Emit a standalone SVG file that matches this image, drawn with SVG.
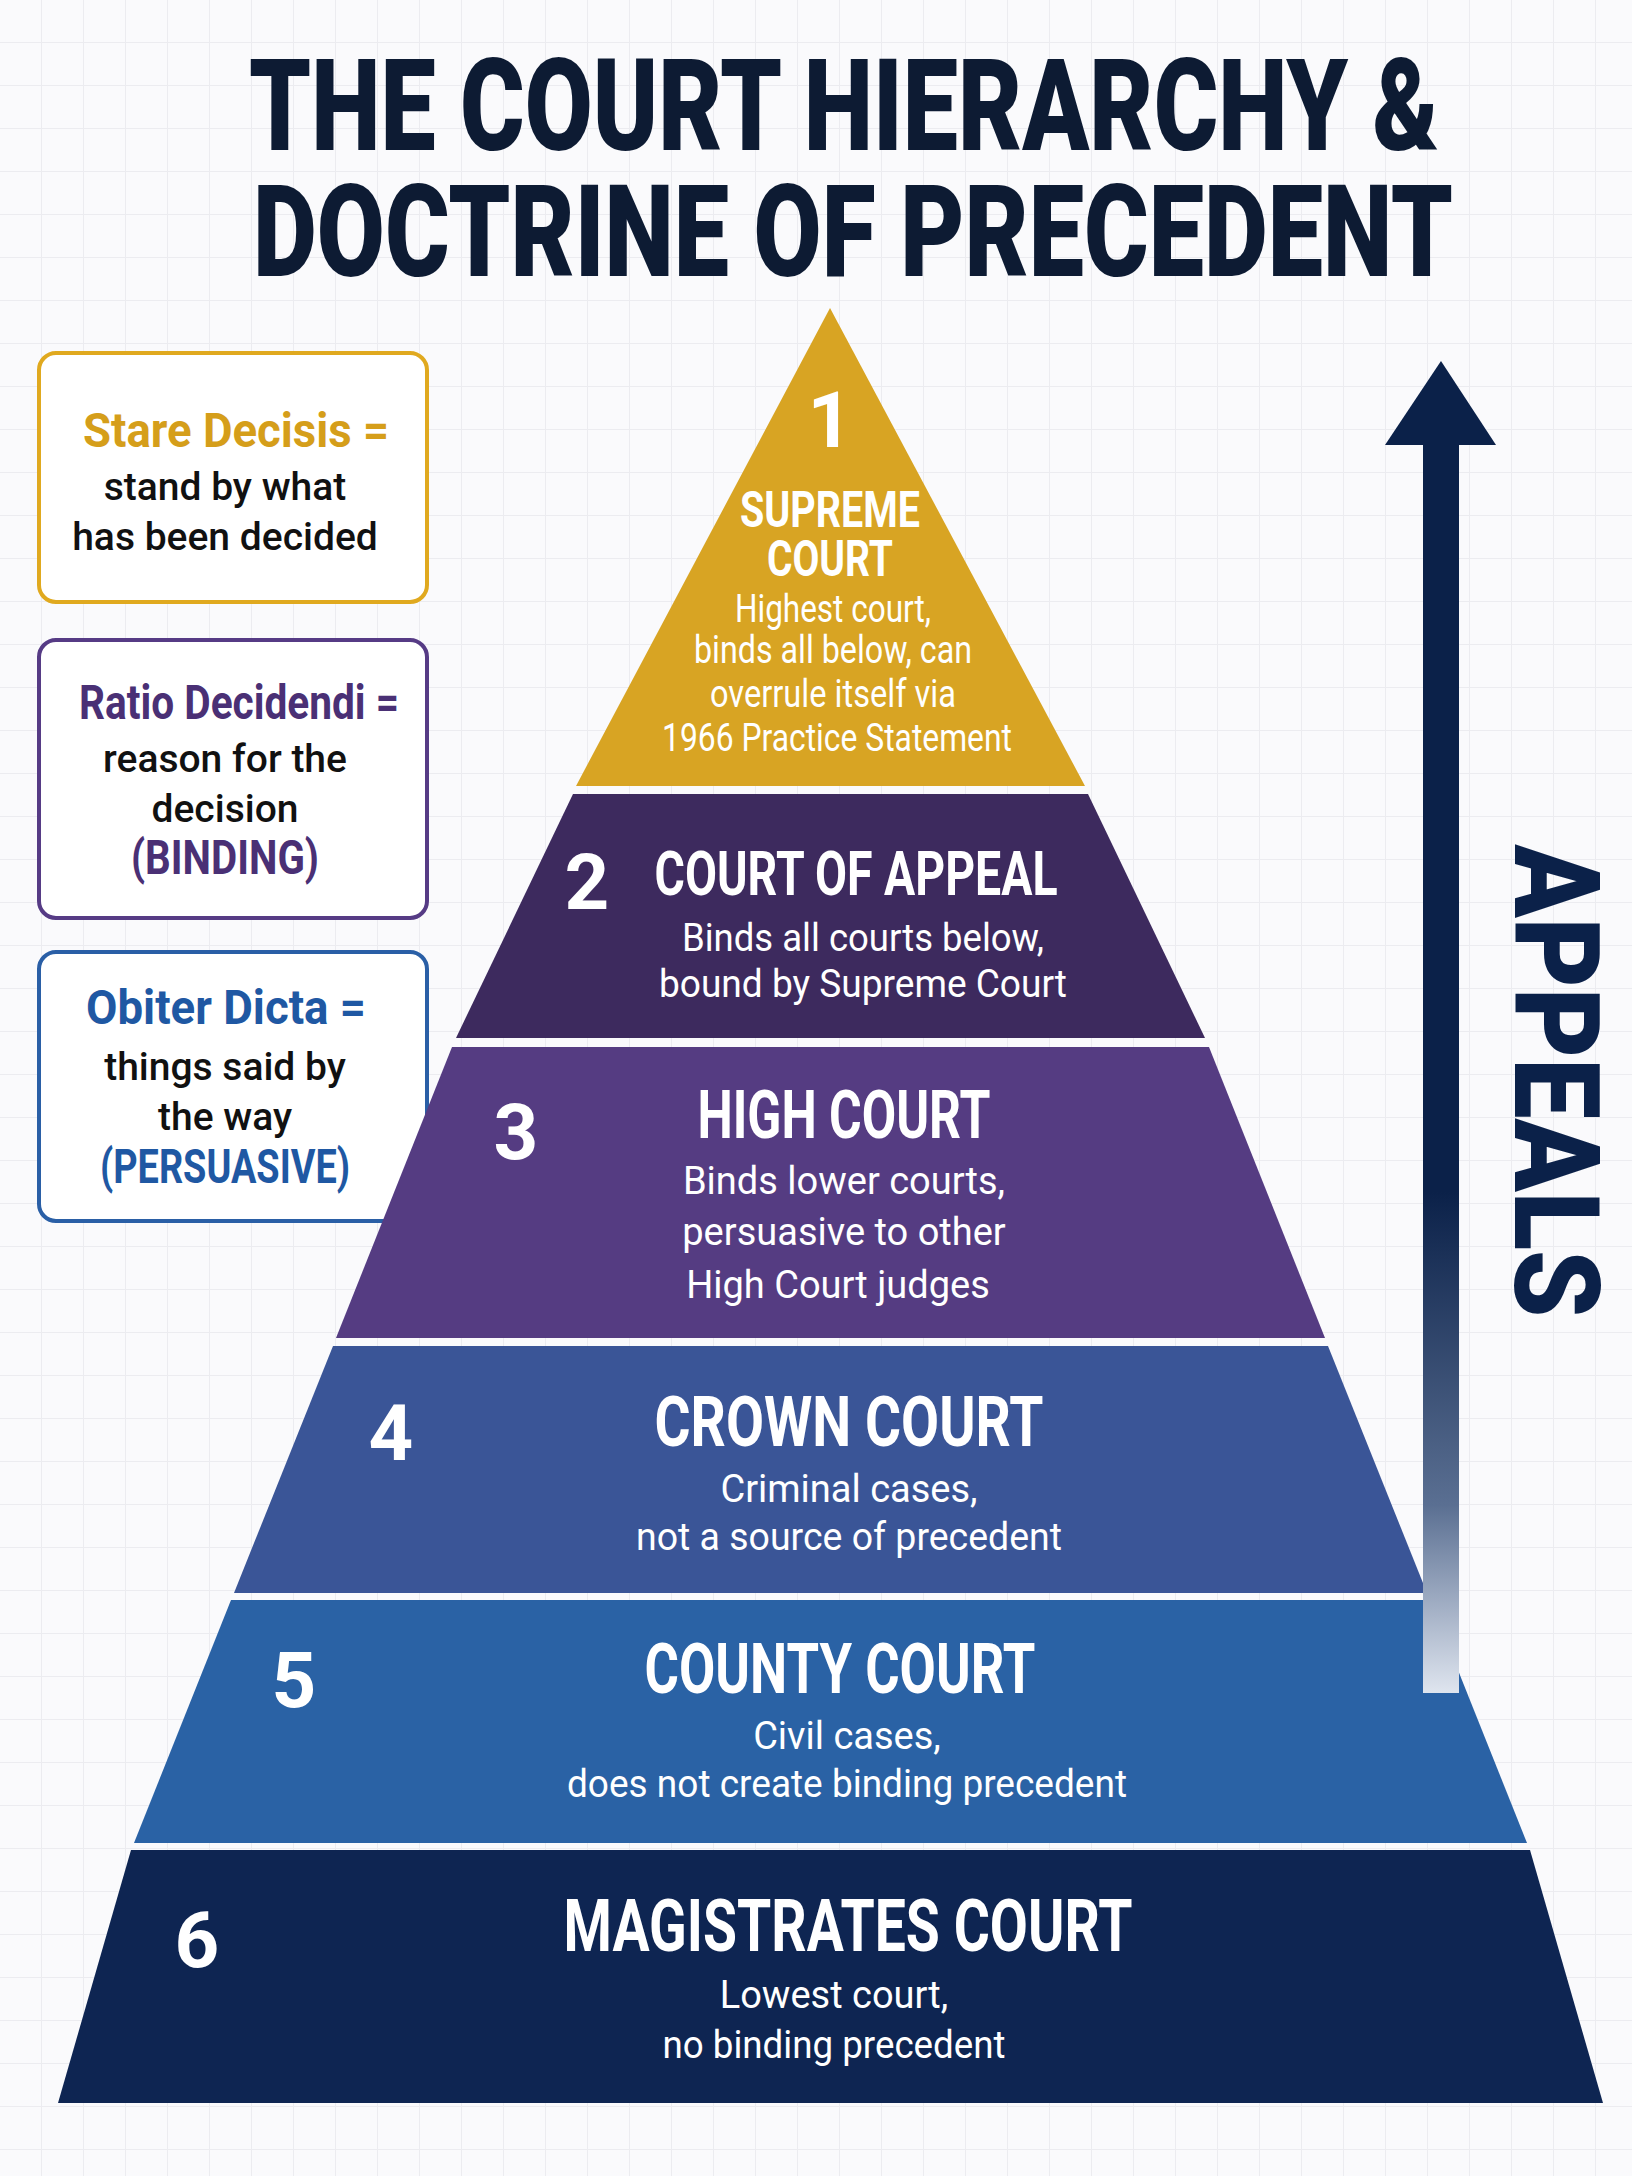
<svg xmlns="http://www.w3.org/2000/svg" width="1632" height="2176" viewBox="0 0 1632 2176">
<defs>
<pattern id="grid" width="42" height="43" patternUnits="userSpaceOnUse"><path d="M42 0V43M0 43H42" fill="none" stroke="#ececf0" stroke-width="2"/></pattern>
<linearGradient id="ag" x1="0" y1="0" x2="0" y2="1"><stop offset="0.6" stop-color="#0b2149"/><stop offset="0.85" stop-color="#5a6f92"/><stop offset="1" stop-color="#dfe5ef"/></linearGradient>
<style>
.h{font-family:Roboto,"Liberation Sans",sans-serif;font-weight:700;fill:#fff;text-anchor:middle}
.b{font-family:Roboto,"Liberation Sans",sans-serif;font-weight:400;fill:#fff;text-anchor:middle;font-size:38px}
.n{font-family:Roboto,"Liberation Sans",sans-serif;font-weight:700;fill:#fff;text-anchor:middle;font-size:78px}
.k{font-family:Roboto,"Liberation Sans",sans-serif;font-weight:700;text-anchor:middle;font-size:48px}
.t{font-family:Roboto,"Liberation Sans",sans-serif;font-weight:500;fill:#111;text-anchor:middle;font-size:39px}
.box{fill:#fff;stroke-width:4}
</style>
</defs>
<rect width="1632" height="2176" fill="#fafafc"/>
<rect width="1632" height="2176" fill="url(#grid)"/>
<g id="title" font-family="Roboto,'Liberation Sans',sans-serif" font-weight="900" fill="#0d1b33" text-anchor="middle" font-size="128">
<text x="844" y="150" textLength="1190" lengthAdjust="spacingAndGlyphs">THE COURT HIERARCHY &amp;</text>
<text x="853" y="276" textLength="1200" lengthAdjust="spacingAndGlyphs">DOCTRINE OF PRECEDENT</text>
</g>
<g id="box1"><rect class="box" x="39" y="353" width="388" height="249" rx="17" stroke="#e0a91f"/>
<text class="k" x="236" y="447" fill="#d59e1a" textLength="306" lengthAdjust="spacingAndGlyphs">Stare Decisis =</text>
<text class="t" x="225" y="500">stand by what</text><text class="t" x="225" y="550">has been decided</text></g>
<g id="box2"><rect class="box" x="39" y="640" width="388" height="278" rx="17" stroke="#563b85"/>
<text class="k" x="239" y="719" fill="#4a3075" textLength="320" lengthAdjust="spacingAndGlyphs">Ratio Decidendi =</text>
<text class="t" x="225" y="772">reason for the</text><text class="t" x="225" y="822">decision</text>
<text class="k" x="225" y="874" fill="#4a3075" font-size="44" textLength="188" lengthAdjust="spacingAndGlyphs">(BINDING)</text></g>
<g id="box3"><rect class="box" x="39" y="952" width="388" height="269" rx="17" stroke="#2a5fa6"/>
<text class="k" x="226" y="1024" fill="#1f58a3" textLength="280" lengthAdjust="spacingAndGlyphs">Obiter Dicta =</text>
<text class="t" x="225" y="1080">things said by</text><text class="t" x="225" y="1130">the way</text>
<text class="k" x="225" y="1183" fill="#1f58a3" font-size="44" textLength="250" lengthAdjust="spacingAndGlyphs">(PERSUASIVE)</text></g>
<g id="tier1"><polygon points="830,308 1085,786 576,786" fill="#d8a423"/>
<text class="n" x="830" y="447">1</text>
<text class="h" x="830" y="527" font-size="50" textLength="180" lengthAdjust="spacingAndGlyphs">SUPREME</text>
<text class="h" x="830" y="576" font-size="50" textLength="126" lengthAdjust="spacingAndGlyphs">COURT</text>
<text class="b" x="833" y="622" font-size="34" textLength="196" lengthAdjust="spacingAndGlyphs">Highest court,</text>
<text class="b" x="833" y="663" font-size="34" textLength="278" lengthAdjust="spacingAndGlyphs">binds all below, can</text>
<text class="b" x="833" y="707" font-size="34" textLength="246" lengthAdjust="spacingAndGlyphs">overrule itself via</text>
<text class="b" x="837" y="751" font-size="34" textLength="350" lengthAdjust="spacingAndGlyphs">1966 Practice Statement</text></g>
<g id="tier2"><polygon points="573,794 1088,794 1205,1038 456,1038" fill="#3d2a5e"/>
<text class="n" x="587" y="909">2</text>
<text class="h" x="856" y="895" font-size="62" textLength="403" lengthAdjust="spacingAndGlyphs">COURT OF APPEAL</text>
<text class="b" x="863" y="951" textLength="362" lengthAdjust="spacingAndGlyphs">Binds all courts below,</text>
<text class="b" x="863" y="997" textLength="408" lengthAdjust="spacingAndGlyphs">bound by Supreme Court</text></g>
<g id="tier3"><polygon points="452,1047 1209,1047 1325,1338 336,1338" fill="#553c82"/>
<text class="n" x="516" y="1159">3</text>
<text class="h" x="844" y="1138" font-size="66" textLength="293" lengthAdjust="spacingAndGlyphs">HIGH COURT</text>
<text class="b" x="844" y="1194">Binds lower courts,</text>
<text class="b" x="844" y="1245">persuasive to other</text>
<text class="b" x="838" y="1298">High Court judges</text></g>
<g id="tier4"><polygon points="333,1346 1328,1346 1427,1593 234,1593" fill="#3a5597"/>
<text class="n" x="391" y="1460">4</text>
<text class="h" x="849" y="1446" font-size="70" textLength="389" lengthAdjust="spacingAndGlyphs">CROWN COURT</text>
<text class="b" x="849" y="1502">Criminal cases,</text>
<text class="b" x="849" y="1550" textLength="426" lengthAdjust="spacingAndGlyphs">not a source of precedent</text></g>
<g id="tier5"><polygon points="231,1600 1430,1600 1527,1843 134,1843" fill="#2a62a5"/>
<text class="n" x="294" y="1707">5</text>
<text class="h" x="840" y="1693" font-size="70" textLength="391" lengthAdjust="spacingAndGlyphs">COUNTY COURT</text>
<text class="b" x="847" y="1749">Civil cases,</text>
<text class="b" x="847" y="1797" textLength="560" lengthAdjust="spacingAndGlyphs">does not create binding precedent</text></g>
<g id="tier6"><polygon points="131,1850 1530,1850 1603,2103 58,2103" fill="#0e2552"/>
<text class="n" x="197" y="1967">6</text>
<text class="h" x="848" y="1951" font-size="72" textLength="569" lengthAdjust="spacingAndGlyphs">MAGISTRATES COURT</text>
<text class="b" x="834" y="2008">Lowest court,</text>
<text class="b" x="834" y="2058" textLength="343" lengthAdjust="spacingAndGlyphs">no binding precedent</text></g>
<g id="connectors">
<rect x="1423" y="440" width="36" height="1253" fill="url(#ag)"/>
<polygon points="1441,361 1496,445 1385,445" fill="#0b2149"/>
</g>
<g id="appeals"><text transform="translate(1515,1081) rotate(90)" font-family="Roboto,'Liberation Sans',sans-serif" font-weight="900" fill="#0b2149" text-anchor="middle" font-size="118" textLength="473" lengthAdjust="spacingAndGlyphs">APPEALS</text></g>
</svg>
